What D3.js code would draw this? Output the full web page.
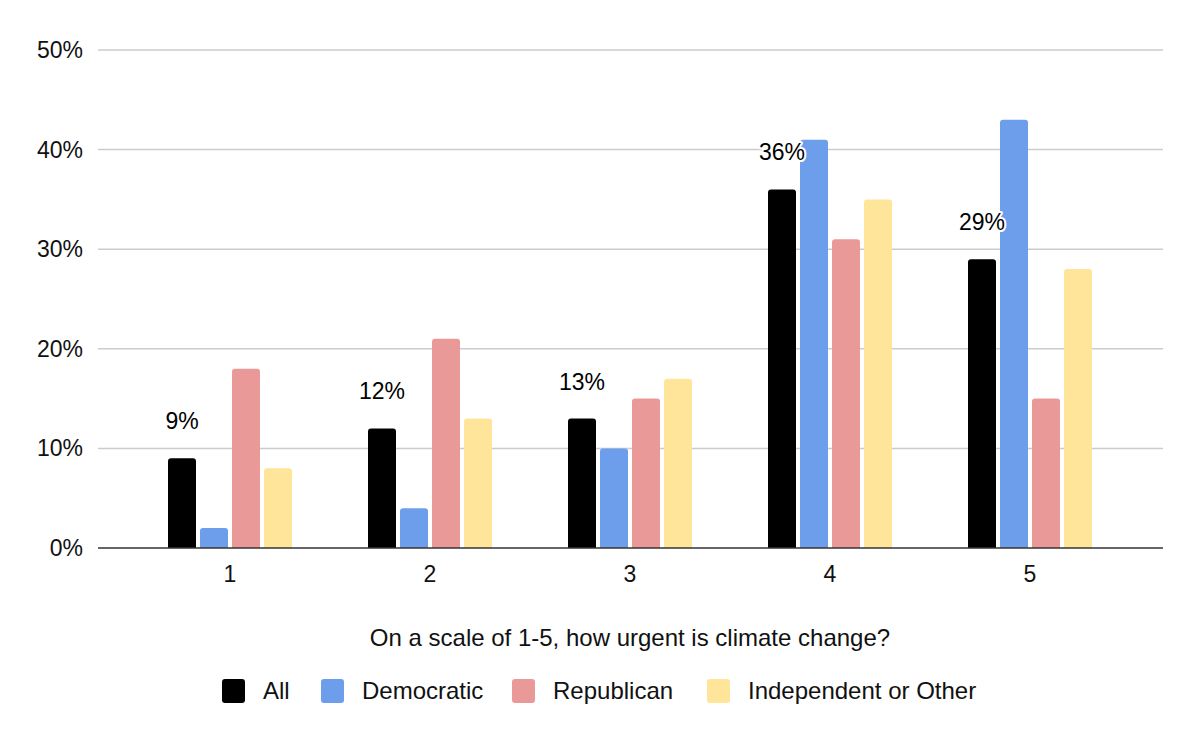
<!DOCTYPE html>
<html>
<head>
<meta charset="utf-8">
<script src="https://cdn.jsdelivr.net/npm/d3@7"></script>
<style>
  body { margin: 0; background: #fff; }
  text { font-family: "Liberation Sans", Arial, sans-serif; }
</style>
</head>
<body>
<div id="canvas"></div>
<script>
const width = 1200;
const height = 742;

const categories = ["1", "2", "3", "4", "5"];
const seriesNames = ["All", "Democratic", "Republican", "Independent or Other"];
const allValues = [9, 12, 13, 36, 29];
const demValues = [2, 4, 10, 41, 43];
const repValues = [18, 21, 15, 31, 15];
const indValues = [8, 13, 17, 35, 28];
const yTicks = [0, 10, 20, 30, 40, 50];
const colors = ["#000000", "#6d9eeb", "#ea9999", "#ffe599"];

const seriesValues = [allValues, demValues, repValues, indValues];

const svg = d3.select("#canvas")
    .append("svg")
    .attr("width", width)
    .attr("height", height)
    .style("background-color", "#fff");

// plot area runs 98..1163, groups centred at 230, 430, ...
const x = d3.scaleBand(categories, [130, 1130]);
const y = d3.scaleLinear([0, 50], [548, 50]);
const barW = 28, gap = 4;
const groupW = barW * 4 + gap * 3;

// gridlines + y labels
svg.append("g").selectAll("line")
    .data(yTicks.filter(d => d > 0))
    .join("line")
    .attr("x1", 98).attr("x2", 1163)
    .attr("y1", d => y(d)).attr("y2", d => y(d))
    .attr("stroke", "#cccccc").attr("stroke-width", 1.5);

svg.append("g").selectAll("text")
    .data(yTicks)
    .join("text")
    .attr("x", 83).attr("y", d => y(d) + 8)
    .attr("text-anchor", "end")
    .attr("font-size", 23)
    .attr("fill", "#111")
    .text(d => d + "%");

// bars with rounded tops
function barPath(x0, w, yTop, yBase, r) {
    r = Math.min(r, (yBase - yTop));
    return `M${x0},${yBase}V${yTop + r}Q${x0},${yTop} ${x0 + r},${yTop}H${x0 + w - r}Q${x0 + w},${yTop} ${x0 + w},${yTop + r}V${yBase}Z`;
}

const barData = [];
seriesValues.forEach((vals, s) => {
    vals.forEach((v, i) => barData.push({ s, cat: categories[i], v }));
});

svg.append("g").selectAll("path")
    .data(barData)
    .join("path")
    .attr("fill", d => colors[d.s])
    .attr("d", d => {
        const x0 = x(d.cat) + x.bandwidth() / 2 - groupW / 2 + d.s * (barW + gap);
        return barPath(x0, barW, y(d.v), y(0), 3);
    });

// baseline
svg.append("line")
    .attr("x1", 98).attr("x2", 1163)
    .attr("y1", y(0)).attr("y2", y(0))
    .attr("stroke", "#333").attr("stroke-width", 1.5);

// x labels
svg.append("g").selectAll("text")
    .data(categories)
    .join("text")
    .attr("x", d => x(d) + x.bandwidth() / 2)
    .attr("y", 582)
    .attr("text-anchor", "middle")
    .attr("font-size", 23)
    .attr("fill", "#111")
    .text(d => d);

// data labels on "All"
svg.append("g").selectAll("text")
    .data(allValues)
    .join("text")
    .attr("x", (d, i) => x(categories[i]) + x.bandwidth() / 2 - groupW / 2 + barW / 2)
    .attr("y", d => y(d) - 29)
    .attr("text-anchor", "middle")
    .attr("font-size", 23)
    .attr("fill", "#000")
    .attr("stroke", "#fff").attr("stroke-width", 4)
    .attr("paint-order", "stroke")
    .attr("stroke-linejoin", "round")
    .text(d => d + "%");

// axis title
svg.append("text")
    .attr("x", 630).attr("y", 646)
    .attr("text-anchor", "middle")
    .attr("font-size", 24)
    .attr("fill", "#111")
    .text("On a scale of 1-5, how urgent is climate change?");

// legend
const legendX = [222, 321, 512, 707];
const lg = svg.append("g").selectAll("g")
    .data(seriesNames)
    .join("g")
    .attr("transform", (d, i) => `translate(${legendX[i]},679)`);
lg.append("rect")
    .attr("width", 23).attr("height", 24).attr("rx", 3)
    .attr("fill", (d, i) => colors[i]);
lg.append("text")
    .attr("x", 41).attr("y", 20)
    .attr("font-size", 24)
    .attr("fill", "#111")
    .text(d => d);
</script>
</body>
</html>
